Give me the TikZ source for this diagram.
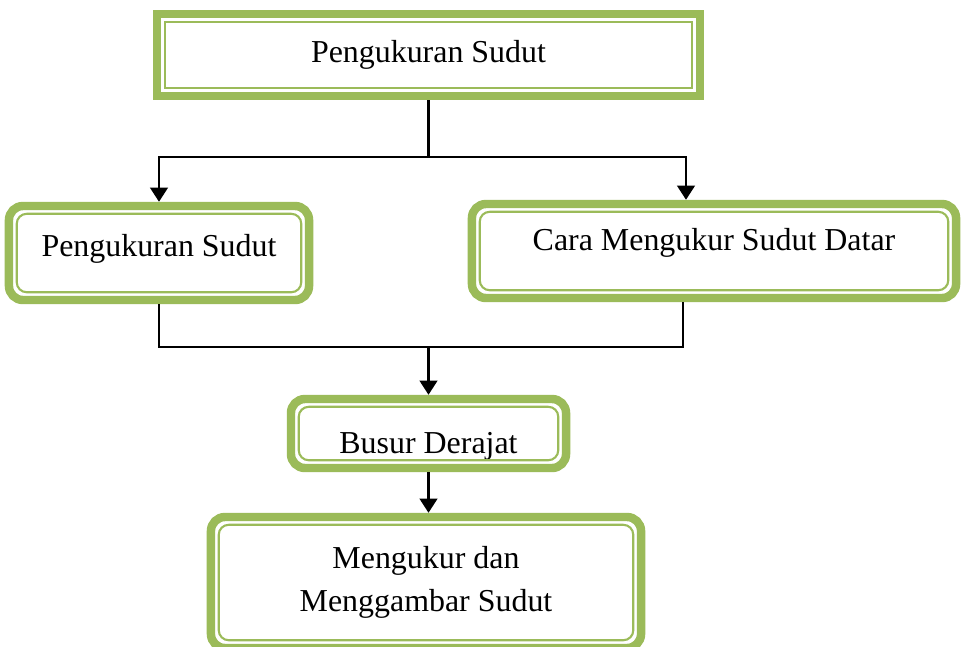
\documentclass[tikz,border=0pt]{standalone}
\usepackage{fontspec}
\setmainfont{Liberation Serif}
\usepackage{xcolor}
\usepackage{tikz}
\usetikzlibrary{positioning,arrows.meta}

\definecolor{daun}{RGB}{155,187,89}

\begin{document}
\begin{tikzpicture}[x=0.025cm, y=-0.025cm, >={Triangle[width=12.5pt,length=10pt]}]
            \tikzstyle{box} = [draw=daun, line width=6pt, fill=white, align=center,
                               font=\fontsize{22.7}{30.6}\selectfont, inner sep=0pt]
            \tikzstyle{rbox} = [box, rounded corners=0.35cm]
            \tikzstyle{garis} = [draw=daun, line width=1.5pt]
            \tikzstyle{link} = [line width=1.5pt]
            \useasboundingbox (0,0) rectangle (964,646);

            \node [box, minimum width=13.575cm, minimum height=2.05cm] (B0) at (428.5,55) {Pengukuran Sudut};

            \node [rbox, minimum width=7.5cm, minimum height=2.35cm] (B1) at (159,253) {\raisebox{3pt}[\height][\depth]{Pengukuran Sudut}};
            \node [rbox, minimum width=12.1cm, minimum height=2.35cm] (B2) at (714,251) {\raisebox{5.5pt}[\height][\depth]{Cara Mengukur Sudut Datar}};

            \node [rbox, minimum width=6.875cm, minimum height=1.725cm] (B3) at (428.5,433.5) {\raisebox{-9pt}[\height][\depth]{Busur Derajat}};
            \node [rbox, minimum width=10.75cm, minimum height=3.275cm] (B4) at (426,582.5) {Mengukur dan\\Menggambar Sudut};

            % garis dalam
            \path [garis] ([shift={(0.3cm,0.3cm)}]B0.south west) rectangle ([shift={(-0.3cm,-0.3cm)}]B0.north east);
            \foreach \i in {1, 2, 3, 4}
                \path [garis, rounded corners=0.25cm] ([shift={(0.3cm,0.3cm)}]B\i.south west) rectangle ([shift={(-0.3cm,-0.3cm)}]B\i.north east);

            \coordinate (J1) at (428.5,157);
            \coordinate (J2) at (428.5,347);

            \draw [link] (B0.south) -- (J1);
            \draw [link, ->] (J1) -| (B1.north);
            \draw [link, ->] (J1) -| ([xshift=-0.7cm]B2.north);
            \draw [link] (B1.south) |- (J2);
            \draw [link] ([xshift=-0.775cm]B2.south) |- (J2);
            \draw [link, ->] (J2) -- (B3.north);
            \draw [link, ->] (B3.south) -- (B3.south |- B4.north);
        \end{tikzpicture}
\end{document}
